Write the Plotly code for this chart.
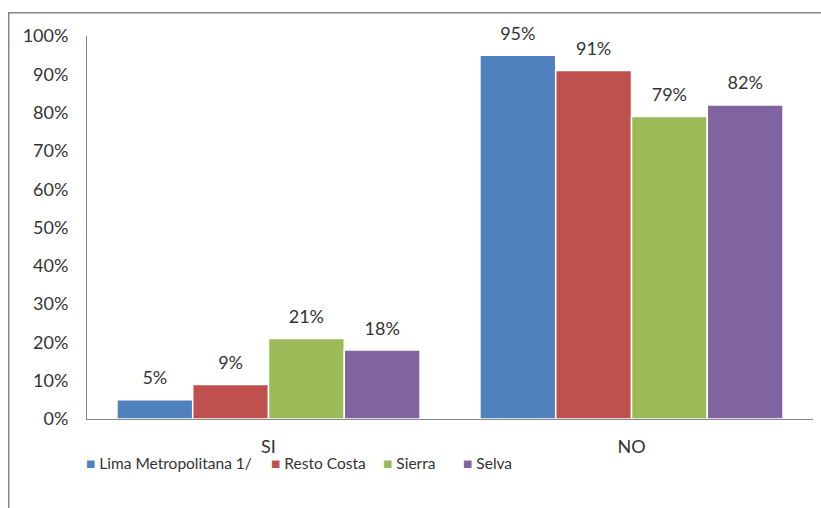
import plotly.graph_objects as go

# Encuesta: respuesta por región
categories = ["SI", "NO"]
series_names = ["Lima Metropolitana 1/", "Resto Costa", "Sierra", "Selva"]
lima = [5, 95]
resto_costa = [9, 91]
sierra = [21, 79]
selva = [18, 82]
y_tick_values = list(range(0, 101, 10))
y_tick_labels = [f"{t}%" for t in y_tick_values]

series_values = [lima, resto_costa, sierra, selva]
colors = ["#4F81BD", "#C0504D", "#9BBB59", "#8064A2"]
text_color = "#333333"
font_family = "Lato, Open Sans, sans-serif"
gap = 0.165

fig = go.Figure()

for i, (name, vals) in enumerate(zip(series_names, series_values)):
    fig.add_trace(go.Bar(
        x=categories, y=vals, name=name,
        marker=dict(color=colors[i], line=dict(color="white", width=1.5)),
        offsetgroup=str(i), alignmentgroup="g",
        showlegend=False, hoverinfo="skip",
    ))

# Value labels: invisible markers push the text a little above each bar
for i, (name, vals) in enumerate(zip(series_names, series_values)):
    fig.add_trace(go.Scatter(
        x=categories, y=vals, mode="markers+text",
        marker=dict(size=16, color="rgba(0,0,0,0)"),
        text=[f"{v}%" for v in vals], textposition="top center",
        textfont=dict(family=font_family, size=18, color=text_color),
        offsetgroup=str(i), alignmentgroup="s",
        showlegend=False, hoverinfo="skip", cliponaxis=False,
    ))

# Legend row below the category labels
legend_x = [-0.0041, 0.2507, 0.4049, 0.5152]
for i, name in enumerate(series_names):
    fig.add_annotation(
        xref="paper", yref="paper", x=legend_x[i], y=-0.1149,
        xanchor="left", yanchor="middle", showarrow=False,
        text=f"<span style='color:{colors[i]}'>■</span> {name}",
        font=dict(family=font_family, size=15.5, color=text_color),
    )

# Outer chart frame
fig.add_shape(type="rect", xref="paper", yref="paper",
              x0=-0.1078, x1=1.1, y0=-0.4, y1=1.0608,
              line=dict(color="#868686", width=1.5), layer="above")

fig.update_layout(
    width=821, height=508,
    margin=dict(l=87, r=8, t=36, b=89),
    paper_bgcolor="white", plot_bgcolor="white",
    barmode="group", bargap=gap, bargroupgap=0,
    scattermode="group", scattergap=gap,
    font=dict(family=font_family, size=17, color=text_color),
    showlegend=False,
    xaxis=dict(
        showline=True, linecolor="#868686", linewidth=1,
        ticks="outside", ticklen=11, tickcolor="rgba(0,0,0,0)",
        tickfont=dict(size=18, color=text_color), showgrid=False,
    ),
    yaxis=dict(
        range=[0, 100], tickvals=y_tick_values, ticktext=y_tick_labels,
        showline=True, linecolor="#868686", linewidth=1,
        ticks="outside", ticklen=14, tickcolor="rgba(0,0,0,0)",
        tickfont=dict(size=18, color=text_color), showgrid=False,
        zeroline=False,
    ),
)

fig.write_html("out.html")
